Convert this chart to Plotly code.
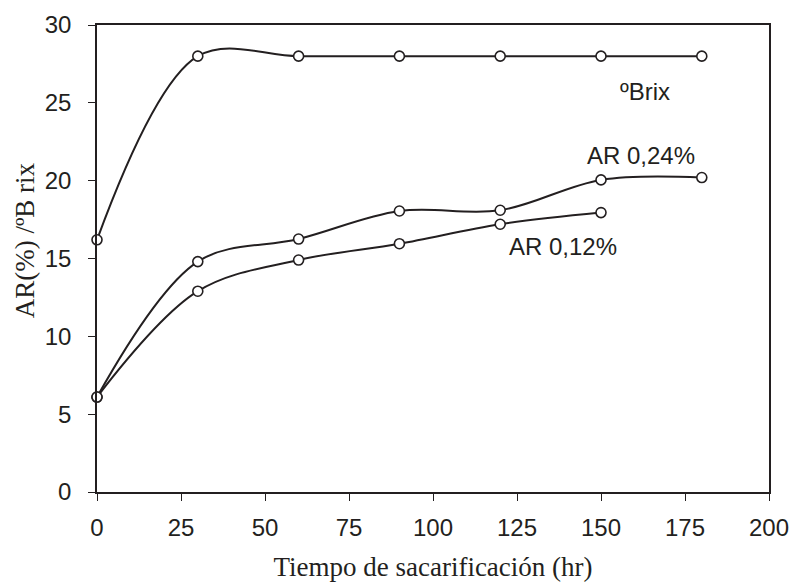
import plotly.graph_objects as go

hours_brix = [0, 30, 60, 90, 120, 150, 180]
brix = [16.2, 28.0, 28.0, 28.0, 28.0, 28.0, 28.0]

hours_ar24 = [0, 30, 60, 90, 120, 150, 180]
ar_024 = [6.1, 14.8, 16.25, 18.05, 18.1, 20.05, 20.2]

hours_ar12 = [0, 30, 60, 90, 120, 150]
ar_012 = [6.1, 12.9, 14.9, 15.95, 17.2, 17.95]

x_ticks = [0, 25, 50, 75, 100, 125, 150, 175, 200]
y_ticks = [0, 5, 10, 15, 20, 25, 30]

INK = "#231f20"
SERIF = "Liberation Serif, serif"
SANS = "Liberation Sans, Arial"
fig = go.Figure()
for xs, ys in [(hours_brix, brix), (hours_ar24, ar_024), (hours_ar12, ar_012)]:
    fig.add_trace(go.Scatter(
        x=xs, y=ys, mode="lines+markers",
        line=dict(color=INK, width=2, shape="spline", smoothing=1.0),
        marker=dict(symbol="circle", size=10, color="white",
                    line=dict(color=INK, width=1.6)),
        showlegend=False, cliponaxis=False,
    ))

labels = [("ºBrix", 163, 25.7), ("AR 0,24%", 162, 21.6), ("AR 0,12%", 138.7, 15.75)]
for txt, lx, ly in labels:
    fig.add_annotation(x=lx, y=ly, text=txt, showarrow=False, xref="x", yref="y",
                       font=dict(family=SANS, size=24, color=INK))

fig.add_annotation(text="AR(%) /ºB rix", textangle=-90, showarrow=False,
                   xref="paper", yref="paper", x=-0.108, y=0.54, xanchor="center", yanchor="middle",
                   font=dict(family=SERIF, size=27, color=INK))

fig.update_layout(
    width=792, height=586,
    margin=dict(l=97, r=23, t=25, b=94, autoexpand=False),
    paper_bgcolor="white", plot_bgcolor="white",
    font=dict(family=SANS, size=24, color=INK),
)
fig.update_xaxes(range=[0, 200], tickvals=x_ticks, showgrid=False, zeroline=False,
                 automargin=False,
                 showline=True, linecolor=INK, linewidth=1.5, mirror=True,
                 ticks="outside", ticklen=7, tickcolor=INK, tickwidth=1.2,
                 ticklabelstandoff=6,
                 title=dict(text="Tiempo de sacarificación (hr)", standoff=18,
                            font=dict(family=SERIF, size=27, color=INK)))
fig.update_yaxes(range=[0, 30], tickvals=y_ticks, showgrid=False, zeroline=False,
                 automargin=False,
                 showline=True, linecolor=INK, linewidth=1.5, mirror=True,
                 ticks="outside", ticklen=7, tickcolor=INK, tickwidth=1.2,
                 ticklabelstandoff=12)

fig.write_html("out.html")
